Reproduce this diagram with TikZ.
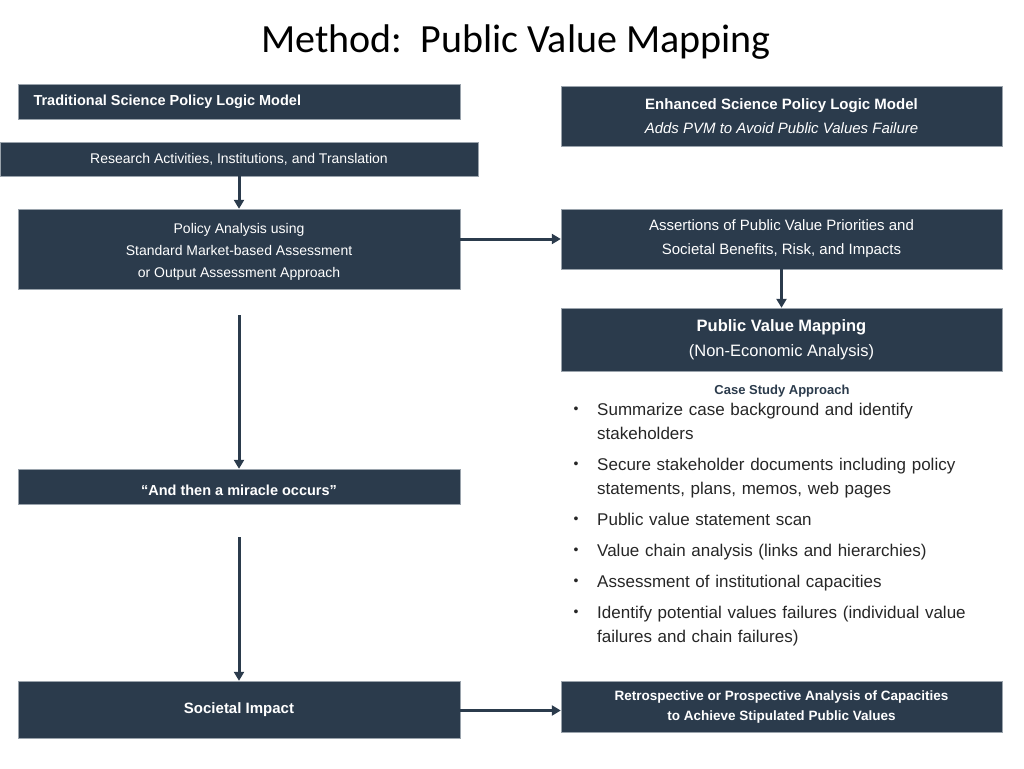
\documentclass[tikz,border=0pt]{standalone}
\usepackage{fontspec}
\setmainfont{Liberation Sans}
\newfontfamily\titlefont{Carlito}
\definecolor{boxfill}{HTML}{2B3B4C}
\definecolor{boxline}{HTML}{9AA3AC}
\definecolor{arrowcol}{HTML}{2B3B4C}
\tikzset{
  pbox/.style={draw=boxline, line width=0.8pt, fill=boxfill, text=white, inner sep=0pt},
  flow/.style={-{Triangle[length=9pt,width=10pt]}, line width=3pt, draw=arrowcol},
  item/.style={anchor=north west, text width=400pt, align=left, font=\fontsize{17}{24}\selectfont, execute at begin node={\hyphenpenalty=10000\relax}, inner sep=0pt, text=black!85},
}
\newcommand{\boxat}[3]{% name, x1/y1, x2/y2
  \path[pbox] (#2) rectangle (#3);
  \node (#1) [fit={(#2)(#3)}, inner sep=0pt] {};}
\usetikzlibrary{fit,arrows.meta}
\begin{document}
\begin{tikzpicture}[x=1pt,y=-1pt]
  \useasboundingbox (0,0) rectangle (1024,768);
  \node (title) at (516,42) {\titlefont\fontsize{40}{48}\selectfont Method:\ \ Public Value Mapping};
  % left column
  \boxat{trad}{18,84}{460,119}
  \node[anchor=west, text=white, font=\bfseries\fontsize{14.5}{17}\selectfont] at (30,101.5) {Traditional Science Policy Logic Model};
  \boxat{res}{0,142}{478,176}
  \node[text=white, font=\fontsize{14}{17}\selectfont] at (res.center) {Research Activities, Institutions, and Translation};
  \boxat{pol}{18,209}{460,289}
  \node[text=white, align=center, font=\fontsize{14}{22}\selectfont] at ([yshift=-3pt]pol.center) {Policy Analysis using\\Standard Market-based Assessment\\or Output Assessment Approach};
  \boxat{mir}{18,469}{460,504}
  \node[text=white, font=\bfseries\fontsize{14.5}{17}\selectfont] at ([yshift=-4pt]mir.center) {“And then a miracle occurs”};
  \boxat{soc}{18,681}{460,738}
  \node[text=white, font=\bfseries\fontsize{15}{17}\selectfont] at (soc.center) {Societal Impact};
  % right column
  \boxat{enh}{561,86}{1002,146}
  \node[text=white, align=center, font=\fontsize{15}{24}\selectfont] at (enh.center) {\textbf{Enhanced Science Policy Logic Model}\\\textit{Adds PVM to Avoid Public Values Failure}};
  \boxat{ass}{561,209}{1002,269}
  \node[text=white, align=center, font=\fontsize{15}{24}\selectfont] at (ass.center) {Assertions of Public Value Priorities and\\Societal Benefits, Risk, and Impacts};
  \boxat{pvm}{561,308}{1002,371}
  \node[text=white, align=center, font=\fontsize{16.5}{25}\selectfont] at (pvm.center) {\textbf{Public Value Mapping}\\(Non-Economic Analysis)};
  \boxat{ret}{561,681}{1002,732}
  \node[text=white, align=center, font=\bfseries\fontsize{13.5}{20}\selectfont] at (ret.center) {Retrospective or Prospective Analysis of Capacities\\to Achieve Stipulated Public Values};
  % case study list
  \node (case) at (782,391) {\textcolor{boxfill}{\bfseries\fontsize{13}{15}\selectfont Case Study Approach}};
  \foreach \y/\txt in {
      403/{Summarize case background and identify stakeholders},
      458/{Secure stakeholder documents including policy statements, plans, memos, web pages},
      513/{Public value statement scan},
      544/{Value chain analysis (links and hierarchies)},
      575/{Assessment of institutional capacities},
      606/{Identify potential values failures (individual value failures and chain failures)}} {
    \node[item] at (597,\y) {\txt};
    \node[anchor=north, inner sep=0pt, font=\fontsize{14}{24}\selectfont, text=black!85] at (576,\y+4) {•};
  }
  % connectors
  \draw[flow] (res) -- (pol);
  \draw[flow] (ass.west -| pol.east) -- (ass);
  \draw[flow] (ass) -- (pvm);
  \draw[flow, shorten <=26pt] (pol) -- (mir);
  \draw[flow, shorten <=33pt] (mir) -- (soc);
  \draw[flow] ([yshift=-1pt]soc.east) -- ([yshift=-1pt]soc.east -| ret.west);
\end{tikzpicture}
\end{document}
